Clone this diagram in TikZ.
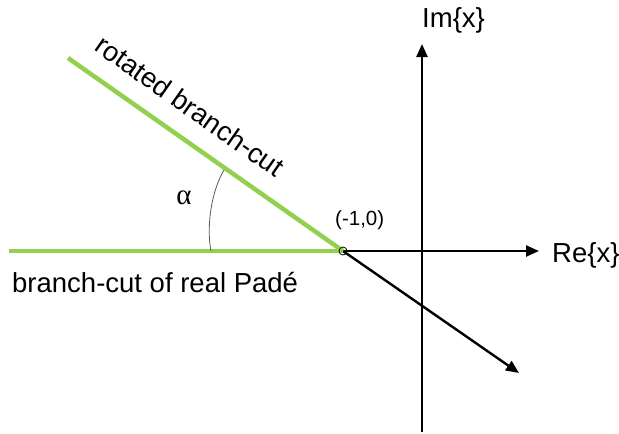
\documentclass[tikz,border=0pt]{standalone}
\usepackage{fontspec}
\setmainfont{Liberation Sans}
\newfontfamily\greekfont{Liberation Serif}
\usetikzlibrary{arrows.meta}
\definecolor{cutgreen}{RGB}{146,208,80}
\tikzset{
  axis/.style={line width=2.4pt, black, -{Triangle[length=13pt,width=11pt]}},
  cutline/.style={line width=4.5pt, cutgreen},
  bigtext/.style={font=\fontsize{27.5}{32}\selectfont, inner sep=0pt},
  smalltext/.style={font=\fontsize{20.5}{24}\selectfont, inner sep=0pt},
}
\begin{document}
\begin{tikzpicture}[x=1pt,y=-1pt]
\useasboundingbox (0,0) rectangle (619,434);
\coordinate (O) at (343,251);
\coordinate (L) at (9,251);
\coordinate (R) at (68,58);
\coordinate (ReEnd) at (539,251);
\coordinate (ImBot) at (422,432);
\coordinate (ImTop) at (422,44);
\coordinate (DiagEnd) at (519,373);
\coordinate (A1) at (211,251);
\coordinate (A2) at (224,170);
% axes
\draw[axis] (O) -- (ReEnd);
\draw[axis] (ImBot) -- (ImTop);
\draw[axis] (O) -- (DiagEnd);
% branch cuts
\draw[cutline] (L) -- (O);
\draw[cutline] (R) -- (O);
% origin marker
\draw[black, line width=0.8pt] (O) circle (4);
% angle arc
\draw[gray!70!black, line width=0.8pt] (A2) .. controls (212,190) and (206,225) .. (A1);
% labels
\node[bigtext, anchor=base west] (im) at (422,27) {Im\{x\}};
\node[bigtext, anchor=base west] (re) at (552,262) {Re\{x\}};
\node[smalltext, anchor=base west] (pt) at (335,225) {(-1,0)};
\node[bigtext, anchor=base west] (real) at (12,292) {branch-cut of real Padé};
\node[bigtext, rotate=-35.07] (rot) at (190,106) {rotated branch-cut};
\node[font=\greekfont\fontsize{29}{32}\selectfont, inner sep=0pt] (alpha) at (184,198) {α};
\end{tikzpicture}
\end{document}
